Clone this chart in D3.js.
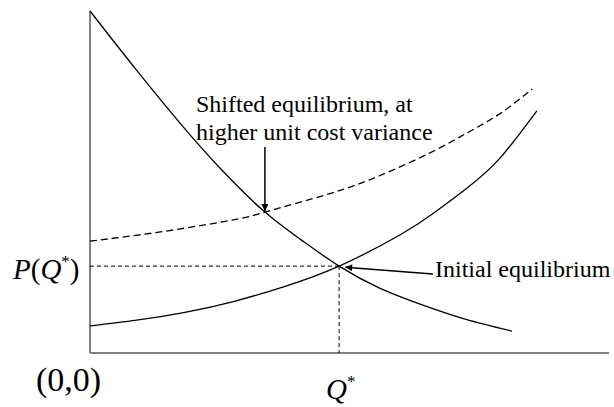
<!DOCTYPE html>
<html>
<head>
<meta charset="utf-8">
<script src="https://cdn.jsdelivr.net/npm/d3@7"></script>
<style>
  body { margin: 0; background: #fff; }
  text { font-family: "Liberation Serif", "Times New Roman", serif; fill: #000; }
</style>
</head>
<body>
<div id="chart"></div>
<script>
// curve points (quantity, price), both on a 0-100 scale
var demandQ = [0, 8.7, 17.3, 25.4, 33.7, 40.5, 48.0, 55.9, 63.6, 72.3, 81.3];
var demandP = [100, 83.2, 67.3, 53.5, 41.2, 33.3, 25.4, 18.9, 14.3, 9.9, 6.4];

var supplyQ = [0, 9.0, 18.3, 28.0, 37.6, 48.0, 59.7, 66.1, 72.6, 79.0, 86.1];
var supplyP = [7.9, 9.6, 11.9, 15.2, 19.5, 25.4, 34.5, 40.8, 48.2, 57.0, 70.8];

var shiftedQ = [0, 14.0, 27.9, 33.7, 46.2, 55.9, 65.5, 72.6, 79.0, 85.2];
var shiftedP = [32.7, 35.5, 39.0, 41.2, 46.6, 51.9, 58.5, 64.3, 70.0, 77.2];

var equilibrium = [48.0, 25.4];
var shiftedEq = [33.7, 41.2];

var svgWidth = 614;
var svgHeight = 407;

var svg = d3.select("#chart")
  .append("svg")
  .attr("width", svgWidth)
  .attr("height", svgHeight);

var x = d3.scaleLinear().domain([0, 100]).range([90, 609]);
var y = d3.scaleLinear().domain([0, 100]).range([353, 11]);

// arrowhead
svg.append("defs").append("marker")
  .attr("id", "arrow")
  .attr("viewBox", "0 0 10 10")
  .attr("refX", 10)
  .attr("refY", 5)
  .attr("markerWidth", 10)
  .attr("markerHeight", 7)
  .attr("markerUnits", "userSpaceOnUse")
  .attr("orient", "auto")
  .append("path")
  .attr("d", "M0,0 L10,5 L0,10 Z")
  .attr("fill", "#000");

// axes
svg.append("line")
  .attr("x1", x(0)).attr("y1", y(100))
  .attr("x2", x(0)).attr("y2", y(0))
  .attr("stroke", "#808080").attr("stroke-width", 2);
svg.append("line")
  .attr("x1", x(0)).attr("y1", y(0))
  .attr("x2", x(100)).attr("y2", y(0))
  .attr("stroke", "#808080").attr("stroke-width", 2);

// guide lines to the initial equilibrium
svg.append("line")
  .attr("x1", x(0)).attr("y1", y(equilibrium[1]))
  .attr("x2", x(equilibrium[0])).attr("y2", y(equilibrium[1]))
  .attr("stroke", "#000").attr("stroke-width", 1)
  .attr("stroke-dasharray", "4,3");
svg.append("line")
  .attr("x1", x(equilibrium[0])).attr("y1", y(equilibrium[1]))
  .attr("x2", x(equilibrium[0])).attr("y2", y(0))
  .attr("stroke", "#000").attr("stroke-width", 1)
  .attr("stroke-dasharray", "4,3");

var line = d3.line()
  .x(d => x(d[0]))
  .y(d => y(d[1]))
  .curve(d3.curveNatural);

function pts(qs, ps) {
  return qs.map((q, i) => [q, ps[i]]);
}

svg.append("path")
  .attr("d", line(pts(demandQ, demandP)))
  .attr("fill", "none").attr("stroke", "#000").attr("stroke-width", 1.3);

svg.append("path")
  .attr("d", line(pts(supplyQ, supplyP)))
  .attr("fill", "none").attr("stroke", "#000").attr("stroke-width", 1.3);

svg.append("path")
  .attr("d", line(pts(shiftedQ, shiftedP)))
  .attr("fill", "none").attr("stroke", "#000").attr("stroke-width", 1.3)
  .attr("stroke-dasharray", "7,4");

// annotation arrows
svg.append("line")
  .attr("x1", x(shiftedEq[0])).attr("y1", 147)
  .attr("x2", x(shiftedEq[0])).attr("y2", y(shiftedEq[1]) - 1)
  .attr("stroke", "#000").attr("stroke-width", 1.5)
  .attr("marker-end", "url(#arrow)");

svg.append("line")
  .attr("x1", 433).attr("y1", 274)
  .attr("x2", x(equilibrium[0]) + 6).attr("y2", y(equilibrium[1]) + 1)
  .attr("stroke", "#000").attr("stroke-width", 1.5)
  .attr("marker-end", "url(#arrow)");

// labels
svg.append("text").attr("x", 196).attr("y", 112)
  .style("font-size", "24px")
  .text("Shifted equilibrium, at");
svg.append("text").attr("x", 196).attr("y", 140)
  .style("font-size", "24px")
  .text("higher unit cost variance");

svg.append("text").attr("x", 435).attr("y", 277)
  .style("font-size", "24px")
  .text("Initial equilibrium");

var pLabel = svg.append("text").attr("x", 13).attr("y", 279)
  .style("font-size", "29px");
pLabel.append("tspan").style("font-style", "italic").text("P");
pLabel.append("tspan").text("(");
pLabel.append("tspan").style("font-style", "italic").text("Q");
pLabel.append("tspan").attr("dy", -12).style("font-size", "17px").text("*");
pLabel.append("tspan").attr("dy", 12).text(")");

svg.append("text").attr("x", 36).attr("y", 391)
  .style("font-size", "34px")
  .text("(0,0)");

var qLabel = svg.append("text").attr("x", 326).attr("y", 399)
  .style("font-size", "29px");
qLabel.append("tspan").style("font-style", "italic").text("Q");
qLabel.append("tspan").attr("dy", -12).style("font-size", "17px").text("*");
</script>
</body>
</html>
